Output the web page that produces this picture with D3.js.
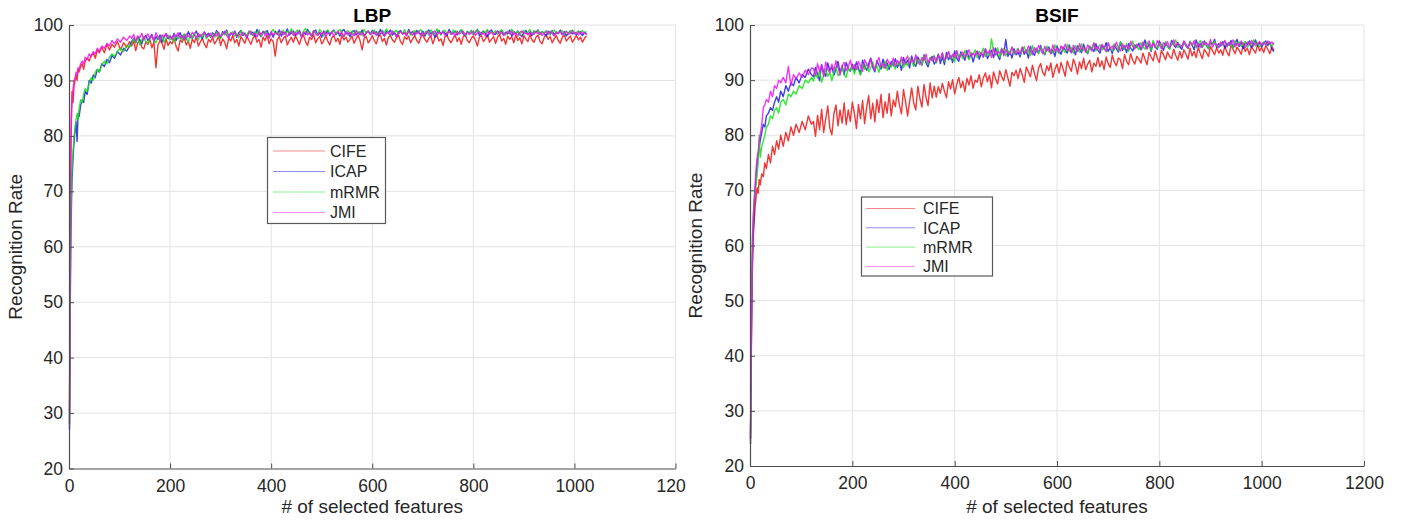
<!DOCTYPE html>
<html>
<head>
<meta charset="utf-8">
<script src="https://cdn.jsdelivr.net/npm/d3@7"></script>
<style>
  body { margin: 0; background: #fff; }
  svg text { font-family: "Liberation Sans", Arial, sans-serif; fill: #262626; }
</style>
</head>
<body>
<div id="main"></div>
<script>

var methods = ['CIFE', 'ICAP', 'mRMR', 'JMI'];

var colors = ['#f01414', '#1c1ce0', '#14e014', '#f014f0'];

var xTicks = [0, 200, 400, 600, 800, 1000, 1200];

var yTicks = [20, 30, 40, 50, 60, 70, 80, 90, 100];

var earlyFeatures = [1, 2, 3, 4, 5, 6, 8, 10, 12, 14, 16, 18, 20, 23, 26, 29, 32, 36, 40, 44,
  48, 52, 56, 60, 65, 70, 75, 80, 85, 90, 96, 102, 108, 114, 120];

var features = earlyFeatures.concat(d3.range(124, 1025, 4));

// LBP
var lbpCIFE = [30, 50, 68, 78, 84, 88, 86, 89, 90, 91, 90, 92, 91.5, 92.5, 93, 92, 93.5, 94, 93.5, 94.5,
  95, 94, 95.5, 95, 96, 95, 96.5, 95.5, 96.5, 96, 97, 95.5, 96.8, 96, 97,
  96.2, 97.1, 95.4, 96.8, 97.3, 96.0, 95.7, 97.0, 96.5, 97.4, 95.9, 96.9, 92.3, 96.4, 97.2, 96.7, 95.6, 97.5, 96.3, 97.0,
  96.6, 97.6, 96.1, 95.3, 97.3, 96.9, 97.8, 96.4, 97.1, 95.8, 97.5, 96.8, 97.9, 96.2, 97.0, 97.6, 96.5, 95.9, 97.4, 96.9,
  97.8, 96.6, 97.2, 98.0, 96.3, 97.5, 96.9, 95.7, 97.7, 97.1, 98.1, 96.8, 97.4, 96.2, 97.9, 97.3, 96.7, 98.0, 97.2, 96.5,
  97.6, 98.1, 96.9, 97.4, 96.0, 97.8, 97.2, 98.2, 96.6, 97.5, 97.0, 94.4, 97.3, 97.9, 96.8, 97.6, 98.0, 96.4, 97.2, 97.8,
  96.9, 98.1, 97.3, 96.5, 97.7, 98.2, 97.0, 96.3, 97.8, 97.4, 98.3, 96.8, 97.5, 97.9, 96.6, 97.2, 98.0, 97.1, 96.4, 97.7,
  98.1, 97.0, 97.6, 96.5, 98.2, 97.3, 97.8, 96.9, 97.4, 98.0, 96.7, 97.5, 98.2, 97.1, 95.5, 97.6, 97.9, 96.8, 97.3, 98.1,
  97.2, 96.6, 97.9, 98.3, 97.0, 97.6, 96.4, 97.8, 98.1, 97.3, 96.9, 97.7, 98.2, 97.0, 96.5, 97.9, 97.4, 98.0, 96.8, 97.5,
  98.1, 97.2, 96.7, 97.8, 98.3, 97.4, 96.9, 97.6, 98.0, 96.6, 97.7, 98.2, 97.1, 97.5, 96.3, 97.9, 98.1, 97.3, 96.8, 97.6,
  98.2, 97.0, 97.7, 96.5, 97.9, 98.3, 97.2, 96.8, 97.6, 98.0, 97.3, 96.2, 97.8, 98.1, 97.0, 97.5, 98.2, 96.9, 97.4, 97.9,
  96.7, 97.8, 98.3, 97.1, 97.6, 96.5, 98.0, 97.4, 97.9, 96.8, 98.2, 97.2, 97.7, 96.6, 98.1, 97.5, 97.0, 98.3, 97.3, 96.9,
  97.8, 98.2, 97.0, 96.6, 97.7, 98.3, 97.4, 97.9, 96.8, 97.5, 98.1, 97.2, 96.7, 97.8, 98.2, 97.1, 97.6, 98.0, 96.9, 97.5,
  98.1, 97.3, 97.8, 96.9, 97.6, 98.0];

var lbpICAP = [27, 42, 55, 63, 68, 72, 76, 79, 81, 82.5, 79, 84, 83.5, 85.5, 86.5, 86, 88, 87.5, 90, 89.5,
  91, 90.5, 92, 91.5, 93, 92.5, 93.8, 93.2, 94.5, 94, 95.2, 94.6, 95.8, 95.3, 96.2,
  97.0, 97.6, 96.8, 97.9, 97.3, 96.6, 97.8, 98.1, 97.2, 97.7, 98.3, 97.0, 97.9, 97.4, 98.2, 96.9, 97.8, 98.4, 97.5, 98.0,
  97.6, 98.5, 97.2, 98.1, 98.6, 97.7, 98.3, 97.4, 98.8, 98.0, 97.6, 98.4, 98.9, 97.9, 98.2, 97.5, 98.7, 98.1, 98.5, 97.8,
  98.6, 98.0, 99.0, 98.3, 97.7, 98.8, 98.4, 99.1, 97.9, 98.5, 98.2, 98.9, 97.8, 98.6, 99.0, 98.1, 98.4, 97.7, 98.9, 98.3,
  98.7, 98.0, 99.2, 98.4, 97.9, 98.8, 98.5, 99.0, 98.1, 98.6, 97.8, 98.9, 98.3, 99.1, 98.0, 98.7, 98.4, 99.3, 98.2, 98.6,
  98.9, 98.1, 98.6, 99.0, 97.9, 98.7, 98.3, 99.2, 98.5, 98.0, 98.8, 99.1, 98.2, 98.6, 97.8, 98.9, 98.4, 99.0, 98.1, 98.7,
  99.1, 98.3, 98.7, 98.0, 98.9, 99.2, 98.4, 98.6, 97.9, 98.8, 99.0, 98.2, 98.7, 98.5, 99.1, 98.0, 98.6, 98.9, 98.3, 99.0,
  98.4, 98.8, 98.1, 99.2, 98.5, 98.0, 98.9, 98.6, 99.1, 98.2, 98.7, 97.9, 98.8, 99.0, 98.4, 98.6, 98.1, 99.2, 98.5, 98.8,
  98.2, 99.0, 98.6, 98.3, 98.9, 98.0, 98.7, 99.1, 98.4, 98.8, 97.8, 98.6, 99.0, 98.3, 98.9, 98.5, 98.1, 99.2, 98.6, 98.4,
  98.9, 98.2, 98.7, 99.1, 98.4, 98.0, 98.8, 98.5, 99.0, 98.3, 98.7, 99.2, 98.1, 98.6, 98.9, 98.4, 97.9, 98.8, 99.1, 98.5,
  98.3, 98.9, 98.6, 99.0, 98.2, 98.7, 98.4, 99.1, 98.0, 98.8, 98.5, 98.9, 98.3, 97.9, 98.7, 99.0, 98.4, 98.6, 98.1, 98.9,
  98.6, 99.1, 98.3, 98.8, 98.5, 98.0, 98.9, 98.4, 99.0, 98.2, 98.7, 98.5, 99.1, 98.3, 98.8, 98.0, 98.6, 98.9, 98.4, 98.7,
  98.2, 98.9, 98.5, 98.1, 98.7, 98.3];

var lbpMRMR = [28, 46, 58, 66, 71, 74, 77, 80, 81.5, 83, 84, 83, 85, 86.5, 86, 87.5, 88.5, 88, 89.5, 90.5,
  90, 91.5, 92, 91.5, 92.8, 93.5, 93, 94.2, 94.8, 94.3, 95.3, 95.8, 95.2, 96.3, 96,
  96.6, 97.5, 96.9, 97.8, 96.4, 97.3, 97.9, 97.0, 96.7, 97.6, 98.0, 97.2, 96.8, 97.9, 97.4, 98.1, 96.9, 97.6, 98.2, 97.3,
  97.8, 96.9, 98.3, 97.5, 98.0, 97.2, 98.4, 97.7, 96.9, 98.2, 97.6, 98.5, 97.9, 97.3, 98.3, 97.8, 98.6, 97.5, 98.1, 97.9,
  98.4, 97.7, 98.7, 98.1, 97.5, 98.6, 98.2, 98.9, 97.8, 98.4, 98.8, 98.0, 98.5, 97.7, 99.0, 98.3, 98.6, 98.0, 98.9, 98.4,
  98.1, 98.8, 98.4, 99.1, 98.0, 98.6, 98.9, 98.2, 97.8, 98.7, 99.2, 98.4, 98.8, 98.1, 98.6, 99.0, 98.3, 98.9, 98.5, 99.3,
  98.2, 98.7, 99.1, 98.4, 98.0, 98.9, 99.4, 98.5, 98.8, 98.1, 99.0, 98.6, 98.3, 99.2, 98.7, 98.0, 98.9, 99.1, 98.4, 98.8,
  99.0, 98.3, 98.7, 99.2, 98.5, 97.9, 98.8, 99.0, 98.4, 98.9, 98.2, 99.1, 98.6, 98.8, 98.1, 99.2, 98.5, 98.9, 98.3, 98.7,
  99.1, 98.4, 98.8, 98.2, 99.0, 98.6, 99.3, 98.5, 98.0, 98.9, 98.7, 99.1, 98.3, 98.8, 98.5, 99.2, 98.4, 98.9, 98.1, 98.7,
  99.0, 98.5, 98.8, 99.2, 98.3, 98.7, 98.9, 98.1, 99.1, 98.6, 98.4, 99.3, 98.7, 98.2, 98.9, 99.0, 98.5, 98.8, 98.3, 99.1,
  98.6, 98.9, 98.4, 99.2, 98.7, 98.1, 98.9, 98.5, 99.0, 98.3, 98.8, 99.1, 98.6, 98.2, 98.9, 98.7, 99.2, 98.4, 98.8, 98.5,
  99.0, 98.3, 98.8, 99.1, 98.6, 98.2, 98.9, 98.5, 99.2, 98.7, 98.4, 98.9, 98.1, 98.8, 99.0, 98.5, 98.7, 99.2, 98.4, 98.9,
  98.6, 99.1, 98.3, 98.8, 98.5, 99.0, 98.7, 98.2, 98.9, 99.1, 98.4, 98.8, 98.6, 99.0, 98.3, 98.9, 98.5, 98.8, 99.1, 98.6,
  98.4, 98.9, 98.7, 99.0, 98.5, 98.8];

var lbpJMI = [28, 55, 72, 81, 84.5, 86.5, 88.5, 90, 90.5, 91.5, 91, 92.3, 92, 93, 93.5, 93, 94.2, 93.8, 94.8, 94.3,
  95.2, 94.8, 95.8, 95.3, 96.2, 95.8, 96.7, 96.2, 97.2, 96.6, 97.5, 96.9, 97.8, 97.2, 98.0,
  97.6, 98.3, 97.1, 98.0, 97.7, 98.5, 97.3, 97.9, 98.4, 97.5, 98.1, 97.2, 98.6, 97.8, 97.4, 98.2, 97.9, 98.5, 97.6, 98.0,
  97.4, 98.3, 97.9, 98.6, 97.6, 98.1, 97.3, 98.4, 98.0, 97.7, 98.7, 98.2, 97.5, 98.5, 97.9, 98.3, 98.8, 97.8, 98.1, 98.5,
  97.7, 98.4, 98.0, 98.7, 97.9, 98.3, 98.9, 98.1, 97.6, 98.6, 98.2, 98.8, 97.9, 98.4, 98.1, 98.7, 98.3, 97.8, 98.6, 98.9,
  98.2, 98.5, 97.8, 98.7, 98.3, 98.9, 98.0, 98.5, 97.6, 98.8, 98.2, 98.6, 98.4, 98.0, 98.9, 98.3, 98.7, 97.9, 98.5, 98.8,
  98.1, 98.6, 98.3, 98.9, 97.8, 98.5, 98.8, 98.2, 98.6, 98.0, 99.0, 98.4, 98.1, 98.7, 98.3, 98.9, 97.9, 98.6, 98.4, 98.8,
  98.0, 98.5, 98.9, 98.3, 98.6, 97.9, 98.8, 98.2, 98.7, 98.4, 98.0, 98.9, 98.5, 98.2, 98.7, 98.0, 98.6, 98.9, 98.3, 98.5,
  98.8, 98.1, 98.6, 98.4, 98.9, 98.0, 98.5, 98.7, 98.2, 98.9, 98.4, 97.9, 98.6, 98.8, 98.3, 98.7, 98.1, 98.9, 98.5, 98.2,
  98.7, 98.4, 98.9, 98.0, 98.6, 98.3, 98.8, 98.5, 97.9, 98.7, 98.9, 98.2, 98.6, 98.4, 98.8, 98.1, 98.5, 98.9, 98.3, 98.6,
  98.0, 98.8, 98.4, 98.6, 98.9, 98.2, 98.7, 98.3, 98.5, 98.9, 98.1, 98.6, 98.8, 98.3, 98.5, 98.0, 98.9, 98.4, 98.7, 98.2,
  98.6, 98.9, 98.3, 98.7, 98.1, 98.5, 98.8, 98.4, 98.9, 98.2, 98.6, 98.0, 98.7, 98.9, 98.4, 98.6, 98.2, 98.8, 98.5, 98.3,
  98.9, 98.4, 98.7, 98.1, 98.6, 98.8, 98.3, 98.9, 98.5, 98.0, 98.7, 98.4, 98.9, 98.2, 98.6, 98.8, 98.3, 98.5, 98.9, 98.4,
  98.7, 98.2, 98.8, 98.5, 98.6, 98.3];

// BSIF
var bsifCIFE = [25, 35, 44, 52, 57, 61, 64, 67, 69, 70.5, 69.5, 72, 71, 73, 72.5, 75, 74, 76.5, 75, 78,
  76.5, 79, 77.5, 80, 78, 80.5, 79, 81.5, 80, 82, 80.5, 82.5, 81, 83.5, 82,
  82.5, 79.8, 83.6, 81.0, 84.7, 80.5, 83.0, 85.3, 81.3, 80.1, 83.9, 85.5, 81.7, 84.6, 82.2, 85.9, 81.9, 84.6, 82.5, 86.0,
  84.0, 81.2, 85.6, 83.0, 86.3, 82.1, 85.1, 87.2, 83.0, 85.8, 82.4, 86.5, 84.1, 87.4, 83.2, 86.1, 84.0, 87.6, 83.5, 86.4,
  85.2, 88.0, 85.5, 83.9, 88.3, 86.1, 83.5, 86.2, 88.6, 85.8, 84.6, 88.9, 86.7, 85.1, 89.2, 86.9, 85.4, 89.5, 86.8, 88.9,
  86.9, 88.8, 87.6, 89.4, 88.0, 86.8, 89.7, 88.4, 90.1, 87.5, 89.2, 90.5, 88.6, 89.8, 87.9, 90.3, 89.1, 90.8, 88.5, 90.0,
  89.6, 91.0, 88.8, 90.4, 91.3, 89.7, 90.9, 88.6, 91.5, 90.2, 89.3, 91.7, 90.6, 89.9, 91.9, 90.4, 88.9, 91.4, 90.8, 91.8,
  90.3, 92.1, 91.0, 89.6, 92.4, 91.5, 90.6, 92.7, 91.2, 89.9, 92.2, 93.0, 91.4, 90.8, 92.6, 91.7, 93.1, 90.5, 92.0, 92.9,
  91.3, 93.2, 92.0, 90.7, 93.5, 92.4, 91.6, 93.8, 92.8, 91.1, 93.3, 92.1, 94.0, 91.9, 92.9, 93.6, 91.5, 93.1, 92.5, 94.1,
  92.4, 93.5, 91.9, 94.2, 93.0, 92.3, 94.5, 93.3, 92.6, 94.0, 93.7, 92.1, 94.6, 93.4, 92.8, 94.8, 93.6, 92.9, 94.3, 93.8,
  93.1, 94.9, 93.8, 92.8, 95.0, 94.2, 93.5, 95.3, 94.0, 93.2, 95.4, 94.6, 93.7, 95.1, 94.3, 93.9, 95.6, 94.5, 93.6, 95.2,
  94.0, 95.5, 94.7, 93.8, 95.8, 94.4, 95.2, 94.1, 96.0, 94.8, 93.9, 95.6, 95.0, 94.3, 96.1, 95.3, 94.6, 95.9, 94.9, 95.5,
  94.5, 96.2, 95.1, 94.4, 96.3, 95.6, 94.8, 96.0, 95.4, 94.7, 96.4, 95.2, 95.8, 94.6, 96.1, 95.5, 94.9, 96.5, 95.3, 95.9,
  95.0, 96.3, 95.6, 94.8, 96.1, 95.4];

var bsifICAP = [25, 36, 46, 54, 58, 62, 66, 70, 72.5, 75, 76.5, 78, 79, 80.5, 82, 81.5, 83.5, 84, 85, 84.5,
  86, 87, 86, 88, 87, 89, 88, 89.5, 89, 90.5, 89.5, 91, 90.5, 92, 91,
  90.6, 92.3, 91.1, 89.9, 92.8, 91.5, 90.7, 93.1, 91.8, 92.4, 90.9, 92.0, 93.4, 91.3, 92.6, 91.0, 93.2, 92.1, 91.6, 92.9,
  91.7, 93.3, 92.2, 91.1, 93.6, 92.5, 91.8, 93.0, 94.0, 92.3, 91.5, 93.5, 92.7, 92.0, 93.8, 92.4, 93.1, 91.9, 93.4, 92.6,
  93.9, 92.3, 93.2, 91.8, 94.1, 92.9, 93.6, 92.2, 94.4, 93.0, 92.5, 94.2, 93.4, 92.7, 94.6, 93.1, 92.4, 93.8, 94.3, 92.9,
  93.5, 94.7, 93.0, 94.2, 92.8, 95.0, 93.7, 94.4, 93.2, 95.3, 94.0, 93.4, 95.1, 94.3, 93.6, 95.4, 93.9, 94.8, 93.3, 94.6,
  95.2, 93.8, 94.9, 94.2, 95.6, 93.9, 94.7, 95.4, 94.1, 95.8, 94.5, 93.7, 95.5, 94.8, 97.4, 94.3, 95.2, 94.0, 95.7, 94.6,
  95.0, 94.2, 95.9, 94.7, 95.4, 94.0, 96.1, 95.1, 94.5, 95.8, 94.9, 96.3, 95.2, 94.6, 95.7, 96.0, 94.8, 95.5, 94.3, 96.2,
  95.3, 94.7, 96.0, 95.5, 94.9, 96.4, 95.1, 95.8, 94.6, 96.2, 95.6, 95.0, 96.5, 95.3, 94.8, 96.1, 95.7, 95.2, 96.6, 95.4,
  94.9, 96.3, 95.6, 96.8, 95.2, 95.9, 94.8, 96.5, 95.7, 95.1, 96.9, 95.4, 96.2, 95.0, 96.6, 95.8, 95.3, 96.4, 95.9, 96.7,
  95.5, 96.2, 97.3, 95.8, 96.5, 95.2, 96.9, 96.0, 95.6, 97.1, 96.3, 95.4, 96.7, 96.1, 95.7, 97.2, 96.4, 95.9, 96.8, 96.0,
  95.6, 97.0, 96.2, 95.8, 96.9, 96.4, 95.5, 97.3, 96.1, 96.6, 95.9, 97.1, 96.3, 95.7, 96.8, 96.5, 97.4, 95.9, 96.6, 96.2,
  97.0, 95.8, 96.7, 96.3, 97.2, 95.9, 96.5, 97.4, 96.1, 96.8, 95.7, 96.9, 96.4, 97.1, 95.9, 96.6, 97.3, 96.2, 96.8, 96.0,
  96.7, 97.1, 96.3, 96.9, 95.6, 95.2];

var bsifMRMR = [24, 40, 50, 57, 62, 65, 68, 70, 71, 73, 75, 80, 76, 78, 79, 80, 81.5, 82, 83.5, 83,
  84.5, 85, 84, 86, 86.5, 85.5, 87.5, 87, 88, 87.5, 89, 88.5, 90, 89.5, 90.5,
  89.8, 91.2, 90.4, 91.8, 89.6, 90.9, 92.0, 90.7, 91.4, 89.9, 91.6, 92.3, 90.8, 91.3, 92.5, 91.0, 90.5, 92.1, 91.7, 92.6,
  91.1, 92.4, 91.8, 90.9, 92.7, 92.0, 93.1, 91.5, 92.3, 93.3, 91.9, 92.6, 91.4, 93.0, 92.2, 93.5, 91.8, 92.9, 92.4, 93.2,
  92.0, 93.4, 92.7, 93.8, 92.3, 93.1, 92.6, 94.0, 93.3, 92.5, 94.2, 93.0, 93.7, 92.8, 94.4, 93.5, 92.9, 94.1, 93.6, 94.5,
  93.1, 94.3, 93.7, 94.8, 93.4, 94.0, 95.1, 93.8, 94.5, 93.3, 95.3, 94.2, 94.8, 93.9, 95.4, 94.4, 93.7, 95.0, 94.6, 95.5,
  94.1, 95.2, 94.7, 95.8, 94.3, 95.0, 94.5, 97.5, 95.3, 94.6, 95.9, 94.2, 95.1, 95.7, 94.4, 95.4, 94.9, 96.0, 94.7, 95.3,
  95.8, 94.6, 95.3, 96.1, 94.9, 95.5, 94.4, 96.3, 95.2, 95.7, 94.8, 96.0, 95.4, 94.7, 96.2, 95.1, 95.6, 94.9, 96.4, 95.3,
  94.8, 96.1, 95.5, 95.0, 96.5, 95.2, 95.9, 94.9, 96.3, 95.7, 95.1, 96.6, 95.4, 95.8, 94.9, 96.2, 95.6, 96.8, 95.3, 95.9,
  96.4, 95.5, 96.0, 95.1, 96.7, 95.8, 95.3, 96.5, 96.1, 95.4, 97.0, 95.9, 95.6, 96.6, 95.2, 96.3, 97.1, 95.7, 96.2, 95.5,
  96.8, 96.0, 95.6, 96.9, 96.3, 95.4, 97.2, 96.1, 95.8, 96.7, 96.4, 95.9, 97.0, 96.2, 95.6, 96.8, 96.5, 97.3, 95.9, 96.4,
  96.1, 96.9, 96.4, 95.8, 97.1, 96.3, 96.7, 95.9, 96.5, 97.2, 96.0, 96.8, 96.3, 95.7, 96.9, 96.6, 97.0, 96.2, 95.9, 96.7,
  96.4, 97.1, 96.0, 96.8, 96.5, 95.8, 97.2, 96.3, 96.9, 96.1, 96.6, 97.0, 95.9, 96.7, 96.4, 97.3, 96.2, 96.8, 96.0, 96.6,
  96.9, 96.3, 97.0, 96.5, 96.2, 96.8];

var bsifJMI = [24, 38, 48, 56, 61, 64, 68, 71, 74, 76, 77, 79, 80, 82, 85, 85.5, 86.5, 86, 88, 87,
  89, 88.5, 90, 89.5, 90.5, 89.5, 92.5, 89, 91, 90.2, 91.3, 90.5, 91.8, 91, 92.2,
  92.1, 90.8, 93.0, 91.6, 92.7, 90.6, 93.3, 92.0, 91.3, 92.9, 91.8, 93.5, 92.3, 90.9, 92.6, 93.2, 91.7, 92.4, 93.6, 92.0,
  92.8, 91.9, 93.4, 92.5, 91.6, 93.7, 92.9, 92.2, 93.9, 92.6, 91.8, 93.3, 94.1, 92.4, 93.0, 92.1, 93.8, 93.1, 92.7, 94.0,
  92.5, 93.6, 93.0, 94.2, 92.8, 93.5, 94.4, 92.9, 93.8, 93.2, 94.6, 93.4, 92.8, 94.1, 93.6, 94.7, 93.1, 94.0, 93.5, 94.3,
  93.3, 94.5, 93.8, 95.0, 93.6, 94.2, 95.2, 93.9, 94.7, 94.1, 95.4, 93.8, 94.6, 95.1, 94.0, 94.8, 95.5, 94.3, 94.9, 94.4,
  95.3, 94.5, 95.0, 94.2, 95.7, 94.8, 95.4, 94.1, 95.9, 94.6, 95.2, 94.9, 95.8, 94.4, 95.5, 95.0, 94.7, 96.0, 95.1, 94.8,
  95.6, 94.7, 96.0, 95.2, 94.9, 96.2, 95.4, 94.6, 95.9, 95.1, 96.3, 95.5, 94.8, 96.1, 95.3, 95.7, 94.9, 96.4, 95.2, 95.8,
  95.0, 96.2, 95.6, 96.5, 95.3, 95.9, 94.9, 96.3, 95.7, 95.2, 96.6, 95.5, 96.0, 95.1, 96.4, 95.8, 95.3, 96.7, 95.6, 96.1,
  95.4, 96.5, 95.9, 95.2, 96.8, 95.7, 96.2, 95.5, 96.9, 96.0, 95.3, 96.6, 95.8, 96.3, 95.6, 97.0, 96.1, 95.7, 96.5, 96.2,
  95.8, 96.9, 96.3, 95.6, 97.1, 96.0, 96.6, 95.9, 97.2, 96.4, 95.7, 96.8, 96.2, 97.0, 95.9, 96.5, 97.3, 96.1, 96.7, 96.3,
  96.0, 97.1, 96.5, 95.8, 96.9, 96.3, 97.2, 96.1, 96.6, 95.9, 97.0, 96.4, 96.8, 96.2, 97.4, 96.0, 96.7, 96.5, 95.9, 96.9,
  96.4, 97.2, 96.1, 96.8, 96.5, 97.3, 96.0, 96.7, 96.3, 97.1, 96.6, 95.9, 96.9, 96.4, 97.2, 96.2, 96.8, 96.5, 97.0, 96.3,
  96.8, 96.4, 97.1, 96.6, 96.9, 96.5];

var width = 1403;

var height = 520;

var svg = d3.select('#main').append('svg').attr('width', width).attr('height', height);

function draw_panel(p) {

  var g = svg.append('g');

  // white backing so the right panel covers the tail of the left one
  if (p.backing) {
    g.append('rect').attr('x', p.backing).attr('y', 0)
      .attr('width', width - p.backing).attr('height', height).attr('fill', '#fff');
  }

  var xScale = d3.scaleLinear().domain([0, 1200]).range([p.left, p.right]);

  var yScale = d3.scaleLinear().domain([20, 100]).range([p.bottom, p.top]);

  // grid
  g.selectAll('.vgrid')
    .data(xTicks.slice(1))
    .enter()
    .append('line')
    .attr('x1', function (d) { return xScale(d) })
    .attr('x2', function (d) { return xScale(d) })
    .attr('y1', p.top)
    .attr('y2', p.bottom)
    .attr('stroke', '#e3e3e3')
    .attr('stroke-width', 1);

  g.selectAll('.hgrid')
    .data(yTicks.slice(1))
    .enter()
    .append('line')
    .attr('x1', p.left)
    .attr('x2', p.right)
    .attr('y1', function (d) { return yScale(d) })
    .attr('y2', function (d) { return yScale(d) })
    .attr('stroke', '#e3e3e3')
    .attr('stroke-width', 1);

  var lineGenerator = d3.line()
    .x(function (d) { return xScale(d[0]) })
    .y(function (d) { return yScale(d[1]) });

  p.series.forEach(function (values, i) {

    var pts = features.map(function (f, j) { return [f, values[j]] });

    g.append('path')
      .datum(pts)
      .attr('fill', 'none')
      .attr('stroke', colors[i])
      .attr('stroke-width', 1.4)
      .attr('stroke-opacity', 0.85)
      .attr('stroke-linejoin', 'round')
      .attr('d', lineGenerator);
  });

  var xAxis = g.append('g')
    .attr('transform', 'translate(0,' + p.bottom + ')')
    .call(d3.axisBottom(xScale).tickValues(xTicks).tickSize(-5).tickSizeOuter(0).tickPadding(11)
      .tickFormat(d3.format('d')));

  var yAxis = g.append('g')
    .attr('transform', 'translate(' + p.left + ',0)')
    .call(d3.axisLeft(yScale).tickValues(yTicks).tickSize(-5).tickSizeOuter(0).tickPadding(6));

  [xAxis, yAxis].forEach(function (a) {
    a.select('.domain').attr('stroke', '#4d4d4d').attr('stroke-width', 1.2);
    a.selectAll('.tick line').attr('stroke', '#4d4d4d');
    a.selectAll('.tick text').attr('font-size', 17.5).attr('fill', '#262626');
  });

  g.append('text')
    .attr('x', (p.left + p.right) / 2)
    .attr('y', 21.5)
    .attr('text-anchor', 'middle')
    .attr('font-size', 19)
    .attr('font-weight', 'bold')
    .style('fill', '#000')
    .text(p.title);

  g.append('text')
    .attr('x', (p.left + p.right) / 2)
    .attr('y', 513)
    .attr('text-anchor', 'middle')
    .attr('font-size', 19)
    .text('# of selected features');

  g.append('text')
    .attr('transform', 'translate(' + p.ylabelX + ',' + ((p.top + p.bottom) / 2) + ') rotate(-90)')
    .attr('text-anchor', 'middle')
    .attr('font-size', 19)
    .text('Recognition Rate');

  // legend
  var lg = p.legend;

  g.append('rect')
    .attr('x', lg.x).attr('y', lg.y)
    .attr('width', lg.w).attr('height', lg.h)
    .attr('fill', '#fff')
    .attr('stroke', '#595959')
    .attr('stroke-width', 1.2);

  methods.forEach(function (m, i) {

    var cy = lg.firstRow + i * lg.rowGap;

    g.append('line')
      .attr('x1', lg.lineX1).attr('x2', lg.lineX2)
      .attr('y1', cy).attr('y2', cy)
      .attr('stroke', colors[i])
      .attr('stroke-opacity', 0.5)
      .attr('stroke-width', 1);

    g.append('text')
      .attr('x', lg.textX)
      .attr('y', cy)
      .attr('dy', '0.36em')
      .attr('font-size', 16)
      .text(m);
  });
}

draw_panel({
  title: 'LBP', left: 69, right: 675.5, top: 25, bottom: 468.5, ylabelX: 21.5,
  series: [lbpCIFE, lbpICAP, lbpMRMR, lbpJMI],
  legend: {x: 267.5, y: 137.5, w: 118, h: 86, firstRow: 151, rowGap: 20.5, lineX1: 273, lineX2: 325, textX: 330}
});

draw_panel({
  title: 'BSIF', left: 750, right: 1364, top: 25, bottom: 466, ylabelX: 701.5, backing: 686,
  series: [bsifCIFE, bsifICAP, bsifMRMR, bsifJMI],
  legend: {x: 861.5, y: 197, w: 131, h: 79, firstRow: 208.5, rowGap: 19.3, lineX1: 866, lineX2: 915, textX: 923}
});

</script>
</body>
</html>
